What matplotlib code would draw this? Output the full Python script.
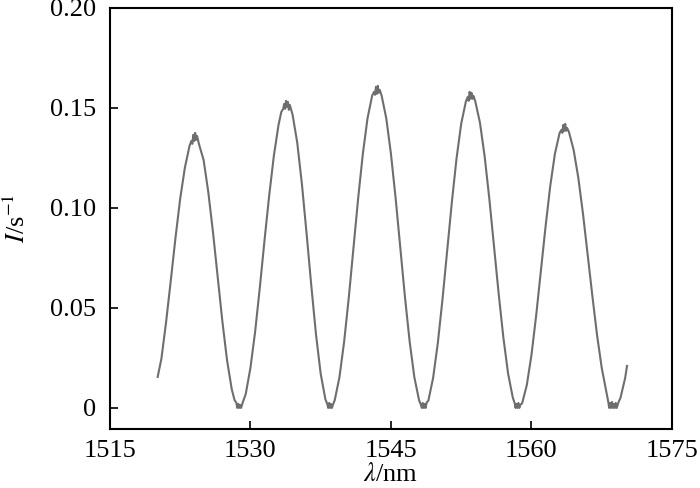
import numpy as np
import matplotlib
matplotlib.use('Agg')
import matplotlib.pyplot as plt

# wavelength (nm) and intensity (1/s)
wl = [1520.1, 1520.5, 1521.0, 1521.5, 1522.0, 1522.5, 1523.0,
      1523.5, 1523.7, 1523.8, 1523.9, 1524.0, 1524.1, 1524.2, 1524.3, 1524.5,
      1525.0, 1525.5, 1526.0, 1526.5, 1527.0, 1527.5,
      1528.0, 1528.3, 1528.5, 1528.6, 1528.7, 1528.8, 1528.9, 1529.0, 1529.2, 1529.5,
      1530.0, 1530.5, 1531.0, 1531.5, 1532.0, 1532.5,
      1533.0, 1533.3, 1533.5, 1533.6, 1533.7, 1533.8, 1533.9, 1534.0, 1534.1, 1534.2, 1534.5,
      1535.0, 1535.5, 1536.0, 1536.5, 1537.0, 1537.5,
      1538.0, 1538.2, 1538.3, 1538.4, 1538.5, 1538.6, 1538.7, 1538.8, 1539.0,
      1539.5, 1540.0, 1540.5, 1541.0, 1541.5, 1542.0, 1542.5,
      1543.0, 1543.2, 1543.3, 1543.4, 1543.5, 1543.6, 1543.7, 1543.8, 1544.0,
      1544.5, 1545.0, 1545.5, 1546.0, 1546.5, 1547.0, 1547.5,
      1548.0, 1548.2, 1548.3, 1548.4, 1548.5, 1548.6, 1548.7, 1548.8, 1549.0,
      1549.5, 1550.0, 1550.5, 1551.0, 1551.5, 1552.0, 1552.5,
      1553.0, 1553.2, 1553.3, 1553.4, 1553.5, 1553.6, 1553.7, 1553.8, 1554.0,
      1554.5, 1555.0, 1555.5, 1556.0, 1556.5, 1557.0, 1557.5,
      1558.0, 1558.2, 1558.3, 1558.4, 1558.5, 1558.6, 1558.7, 1558.8, 1559.0,
      1559.5, 1560.0, 1560.5, 1561.0, 1561.5, 1562.0, 1562.5,
      1563.0, 1563.2, 1563.3, 1563.4, 1563.5, 1563.6, 1563.7, 1563.8, 1564.0,
      1564.5, 1565.0, 1565.5, 1566.0, 1566.5, 1567.0, 1567.5,
      1568.0, 1568.2, 1568.3, 1568.4, 1568.5, 1568.6, 1568.7, 1568.8, 1568.9, 1569.0,
      1569.1, 1569.3, 1569.5, 1570.0, 1570.2]
inten = [0.0155, 0.0247, 0.043, 0.0637, 0.085, 0.1045, 0.120,
         0.131, 0.1335, 0.132, 0.1365, 0.1335, 0.1375, 0.134, 0.136, 0.132,
         0.124, 0.108, 0.088, 0.0656, 0.0435, 0.024,
         0.0095, 0.004, 0.0025, 0.0, 0.002, 0.0, 0.0015, 0.0, 0.003, 0.007,
         0.020, 0.038, 0.060, 0.0836, 0.106, 0.126,
         0.1415, 0.148, 0.1495, 0.152, 0.1495, 0.1535, 0.1505, 0.153, 0.149, 0.1515, 0.1466,
         0.1325, 0.1117, 0.0869, 0.061, 0.0367, 0.0171,
         0.0044, 0.002, 0.0, 0.0025, 0.0, 0.002, 0.0, 0.0015, 0.0039,
         0.0153, 0.033, 0.0552, 0.080, 0.1048, 0.127, 0.1448,
         0.1562, 0.158, 0.1565, 0.1605, 0.157, 0.161, 0.1575, 0.159, 0.1562,
         0.1448, 0.127, 0.1048, 0.080, 0.0552, 0.033, 0.0153,
         0.0039, 0.0015, 0.0, 0.0025, 0.0, 0.002, 0.0, 0.0025, 0.0038,
         0.015, 0.0323, 0.0542, 0.0785, 0.1028, 0.1247, 0.1421,
         0.1532, 0.1555, 0.1535, 0.158, 0.1545, 0.1575, 0.1545, 0.156, 0.1533,
         0.1426, 0.1258, 0.1046, 0.081, 0.057, 0.0352, 0.0173,
         0.0053, 0.0025, 0.0, 0.002, 0.0, 0.0025, 0.0, 0.0015, 0.0023,
         0.0114, 0.0265, 0.0462, 0.0683, 0.0905, 0.1108, 0.127,
         0.1374, 0.139, 0.1375, 0.1415, 0.1385, 0.142, 0.1385, 0.140, 0.1379,
         0.129, 0.115, 0.097, 0.0766, 0.056, 0.0364, 0.020,
         0.0078, 0.003, 0.0, 0.0025, 0.0, 0.003, 0.0, 0.002, 0.0, 0.0025,
         0.0, 0.003, 0.005, 0.015, 0.021]

xticks = [1515, 1530, 1545, 1560, 1575]
yticks = [0, 0.05, 0.10, 0.15, 0.20]
ylabels = ['0', '0.05', '0.10', '0.15', '0.20']

plt.rcParams['font.family'] = ['Liberation Serif', 'DejaVu Serif']
plt.rcParams['mathtext.fontset'] = 'stix'

fig = plt.figure(figsize=(7, 4.88), dpi=100)
ax = fig.add_axes([0.157, 0.121, 0.803, 0.863])
ax.plot(wl, inten, color='#6e6e6e', lw=1.5)

ax.set_xlim(1515, 1575)
ax.set_ylim(-0.0105, 0.20)
ax.set_xticks(xticks)
ax.set_yticks(yticks)
ax.set_yticklabels(ylabels)
ax.tick_params(direction='in', length=6, width=1.2, labelsize=19)
ax.tick_params(axis='y', pad=10)
ax.tick_params(axis='x', pad=8)
for s in ax.spines.values():
    s.set_linewidth(1.5)

ax.set_xlabel(r'$\lambda$/nm', fontsize=19, labelpad=0.5)
ax.set_ylabel(r'$I$/s$^{-1}$', fontsize=19, labelpad=14)

fig.savefig('out.png', dpi=100)
